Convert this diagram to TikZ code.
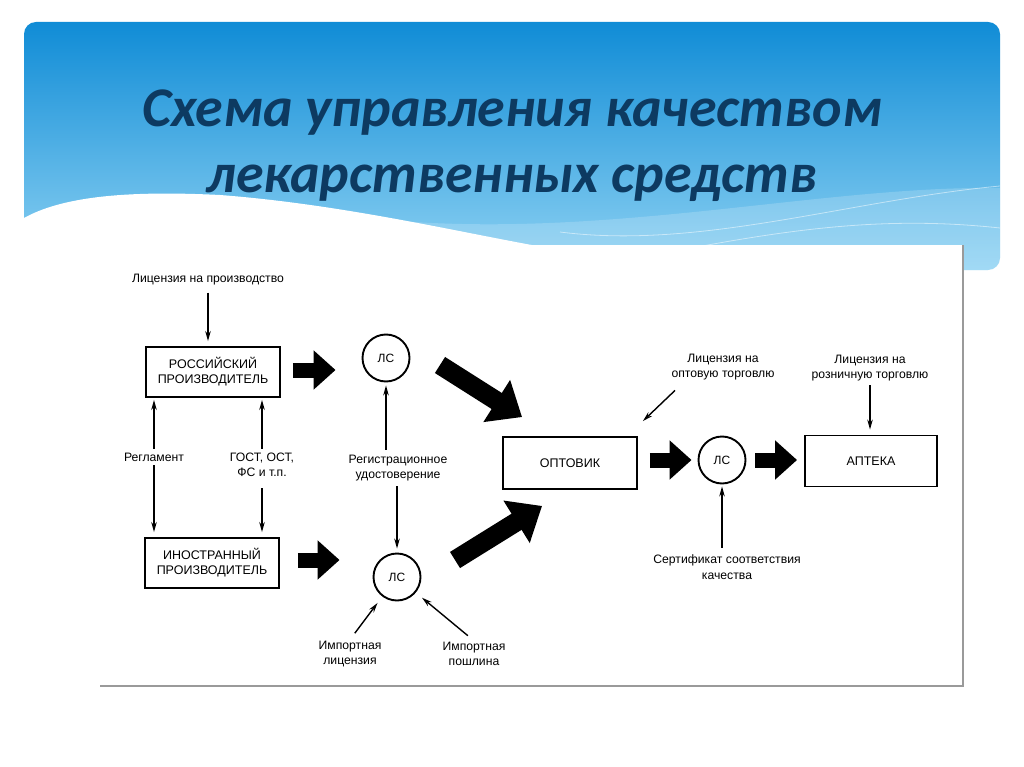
\documentclass[tikz,border=0pt]{standalone}
\usepackage{fontspec}
\setmainfont{Liberation Sans}
\newfontfamily\titlefont{Carlito}
\usetikzlibrary{arrows.meta}
\definecolor{titleblue}{HTML}{0D3A61}
\definecolor{bannertop}{HTML}{108CD6}
\definecolor{bannerbot}{HTML}{8ED2F3}
\definecolor{framegray}{HTML}{9A9A9A}
\begin{document}
\begin{tikzpicture}[x=1pt,y=-1pt,
  box/.style={draw, line width=1.9pt, minimum width=134pt, minimum height=50pt, align=center, inner sep=0pt, font=\fontsize{12.5}{15}\selectfont},
  lsnode/.style={circle, draw, line width=1.9pt, minimum size=47pt, inner sep=0pt, font=\fontsize{12}{14}\selectfont},
  lbl/.style={align=center, inner sep=1pt, font=\fontsize{12.2}{15.5}\selectfont},
  sa/.style={-{Stealth[length=10pt,width=5.5pt]}, line width=1.4pt},
  bigarrow/.style={line width=15pt, -{Triangle[length=22pt,width=38pt]}},
  bigdiag/.style={line width=19pt, -{Triangle[length=30pt,width=48pt]}},
  titletext/.style={font=\titlefont\bfseries\itshape\fontsize{56}{58}\selectfont, text=titleblue, inner sep=0pt, anchor=base}
]
\useasboundingbox (0,0) rectangle (1024,767);
\fill[white] (0,0) rectangle (1024,767);
% banner
\shade[top color=bannertop, bottom color=bannerbot, rounded corners=12pt] (24,22) rectangle (1000,270);
\fill[white, opacity=0.18] (300,208) .. controls (550,255) and (800,185) .. (1000,188) -- (1000,270) -- (300,270) -- cycle;
\draw[white, opacity=0.5, line width=0.8pt] (560,232) .. controls (700,250) and (850,200) .. (1000,186);
\draw[white, opacity=0.5, line width=0.8pt] (640,258) .. controls (780,230) and (880,215) .. (1000,228);
\fill[white] (24,218) .. controls (60,198) and (120,190) .. (220,195) .. controls (350,205) and (470,235) .. (560,250) -- (560,300) -- (24,300) -- cycle;
% diagram frame
\fill[white] (100,245) rectangle (963,686);
\draw[framegray, line width=1.5pt] (963,245) -- (963,686) -- (100,686);
% title
\node[titletext] (title1) at (512,127) {Схема управления качеством};
\node[titletext] (title2) at (512,193) {лекарственных средств};
% nodes
\node[box] (rus) at (213,372) {РОССИЙСКИЙ\\ПРОИЗВОДИТЕЛЬ};
\node[box] (inos) at (212,563) {ИНОСТРАННЫЙ\\ПРОИЗВОДИТЕЛЬ};
\node[box, minimum height=52pt] (opt) at (570,463) {ОПТОВИК};
\node[box, minimum width=132pt, minimum height=51pt] (apt) at (871,461) {АПТЕКА};
\node[lsnode] (ls1) at (386,358) {ЛС};
\node[lsnode] (ls2) at (397,577) {ЛС};
\node[lsnode] (ls3) at (722,460) {ЛС};
% labels
\node[lbl] (licprod) at (208,280) {Лицензия на производство};
\node[lbl] (regl) at (154,457) {Регламент};
\node[lbl] (gost) at (262,465) {ГОСТ, ОСТ,\\ФС и т.п.};
\node[lbl] (regud) at (398,468) {Регистрационное\\удостоверение};
\node[lbl] (implic) at (350,654) {Импортная\\лицензия};
\node[lbl] (imppos) at (474,654) {Импортная\\пошлина};
\node[lbl] (licopt) at (723,367) {Лицензия на\\оптовую торговлю};
\node[lbl] (licroz) at (870,368) {Лицензия на\\розничную торговлю};
\node[lbl] (sert) at (727,567) {Сертификат соответствия\\качества};
% thin arrows
\draw[sa, shorten <=6pt, shorten >=5pt] (licprod.south) -- (licprod.south |- rus.north);
\draw[sa, shorten <=3pt, shorten >=2pt] (regl.north) -- (regl.north |- rus.south);
\draw[sa, shorten <=3pt, shorten >=2pt] (gost.north) -- (gost.north |- rus.south);
\draw[sa, shorten <=3pt, shorten >=5pt] (regl.south) -- (regl.south |- inos.north);
\draw[sa, shorten <=10pt, shorten >=5pt] (gost.south) -- (gost.south |- inos.north);
\draw[sa, shorten <=4pt, shorten >=3pt] (regud.north -| ls1) -- (ls1);
\draw[sa, shorten <=4pt, shorten >=4pt] (regud.south -| ls2) -- (ls2);
\draw[sa, shorten <=8pt, shorten >=8pt] (implic.north) -- (ls2);
\draw[sa, shorten <=8pt, shorten >=8pt] (imppos.north) -- (ls2);
\draw[sa] ([xshift=-48pt,yshift=-9pt]licopt.south) -- ([xshift=5pt,yshift=15pt]opt.north east);
\draw[sa, shorten <=3pt, shorten >=5pt] (licroz.south) -- (licroz.south |- apt.north);
\draw[sa, shorten <=6pt, shorten >=2pt] (sert.north -| ls3) -- (ls3);
% big arrows
\draw[bigarrow] ([xshift=12pt,yshift=2pt]rus.east) -- ([xshift=-26pt,yshift=2pt]rus.east -| ls1.west);
\draw[bigarrow] ([xshift=18pt,yshift=3pt]inos.east) -- ([xshift=-33pt,yshift=3pt]inos.east -| ls2.west);
\draw[bigarrow] ([xshift=12pt,yshift=3pt]opt.east) -- ([xshift=-6pt,yshift=3pt]opt.east -| ls3.west);
\draw[bigarrow] ([xshift=9pt]ls3.east) -- ([xshift=-7pt]ls3.east -| apt.west);
\draw[bigdiag] ([xshift=54pt,yshift=-7pt]ls1.center) -- ([xshift=20pt,yshift=19pt]opt.north west);
\draw[bigdiag] ([xshift=58pt,yshift=17pt]ls2.center) -- ([xshift=40pt,yshift=-16pt]opt.south west);
\end{tikzpicture}
\end{document}
